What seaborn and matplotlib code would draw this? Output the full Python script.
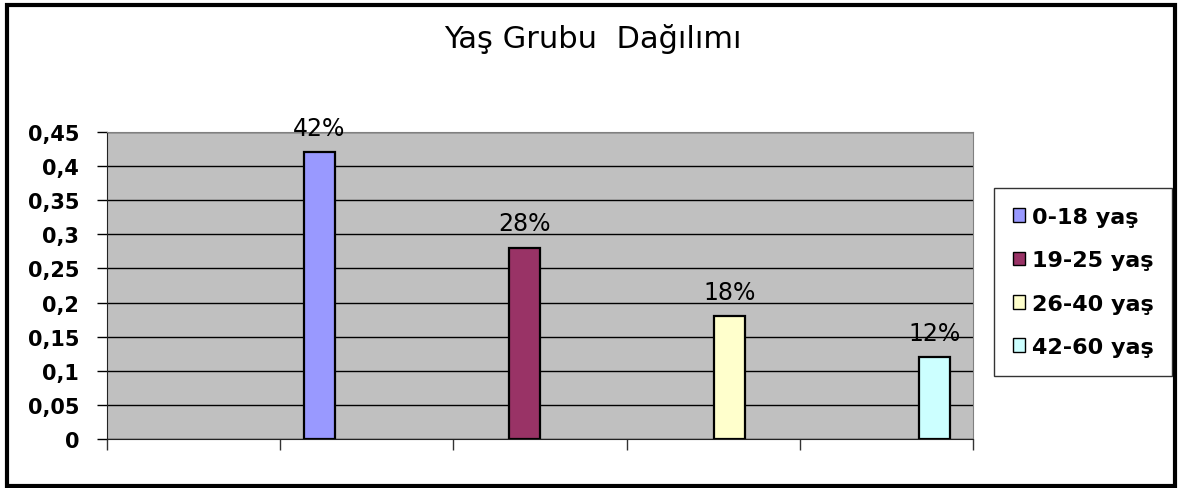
import seaborn as sns
import pandas as pd
import matplotlib.pyplot as plt
import numpy as np

from matplotlib.patches import Patch, Rectangle
from matplotlib.ticker import FuncFormatter

# -----------------------------------------------------------------------------
# Data
# -----------------------------------------------------------------------------

groups = ["0-18 yaş", "19-25 yaş", "26-40 yaş", "42-60 yaş"]
shares = [0.42, 0.28, 0.18, 0.12]
colors = ["#9999FF", "#993366", "#FFFFCC", "#CCFFFF"]
y_ticks = [0, 0.05, 0.1, 0.15, 0.2, 0.25, 0.3, 0.35, 0.4, 0.45]
title = "Yaş Grubu  Dağılımı"

df = pd.DataFrame({"group": groups, "share": shares})

# -----------------------------------------------------------------------------
# Figure
# -----------------------------------------------------------------------------

W, H = 1179, 489
fig = plt.figure(figsize=(W / 100, H / 100), dpi=100)
fig.patch.set_facecolor("white")

# plot area in pixel coords of the reference
left, right, top, bottom = 107, 973, 133, 440
ax = fig.add_axes([left / W, 1 - bottom / H, (right - left) / W, (bottom - top) / H])
ax.set_facecolor("#C0C0C0")

sns.barplot(
    data=df,
    x="group",
    y="share",
    hue="group",
    order=groups,
    hue_order=groups,
    palette=colors,
    saturation=1,
    dodge=False,
    width=0.15,
    edgecolor="black",
    linewidth=1.6,
    legend=False,
    ax=ax,
    zorder=3,
)

# percentage labels above the bars
for container, v in zip(ax.containers, shares):
    ax.bar_label(container, labels=[f"{v:.0%}"], padding=9, fontsize=17, color="black")

# -----------------------------------------------------------------------------
# Axes styling
# -----------------------------------------------------------------------------

ax.set_ylim(0, 0.45)
ax.set_yticks(y_ticks)
ax.yaxis.set_major_formatter(FuncFormatter(lambda v, p: f"{v:g}".replace(".", ",")))
ax.tick_params(axis="y", length=7, width=1, pad=13, labelsize=15)
for lab in ax.get_yticklabels():
    lab.set_fontweight("bold")

ax.grid(axis="y", color="black", linewidth=1, zorder=1)
ax.set_axisbelow(True)

# x axis: category boundary ticks, no labels
xmin, xmax = -1.037, 3.188
ax.set_xlim(xmin, xmax)
ax.set_xticks(np.linspace(xmin, xmax, 6))
ax.set_xticklabels([])
ax.tick_params(axis="x", length=8, width=1, color="#333333")
ax.set_xlabel("")
ax.set_ylabel("")

for s in ["top", "right"]:
    ax.spines[s].set_color("#808080")
for s in ["left", "bottom"]:
    ax.spines[s].set_color("#222222")

# -----------------------------------------------------------------------------
# Title, legend, border
# -----------------------------------------------------------------------------

fig.text(593 / W, 1 - 48 / H, title, ha="center", va="baseline", fontsize=22)

handles = [Patch(facecolor=c, edgecolor="black", linewidth=1) for c in colors]
leg = fig.legend(
    handles,
    groups,
    loc="center",
    bbox_to_anchor=(1083 / W, 1 - 283 / H),
    prop={"weight": "bold", "size": 16},
    frameon=True,
    fancybox=False,
    edgecolor="black",
    handlelength=0.55,
    handleheight=0.55,
    handletextpad=0.3,
    labelspacing=1.05,
    borderpad=0.85,
)
leg.get_frame().set_linewidth(1)

fig.patches.append(
    Rectangle((7 / W, 2.5 / H), (1175 - 7) / W, (486.5 - 6) / H,
              transform=fig.transFigure, fill=False, edgecolor="black", linewidth=3)
)

fig.savefig("out.png", dpi=100)
